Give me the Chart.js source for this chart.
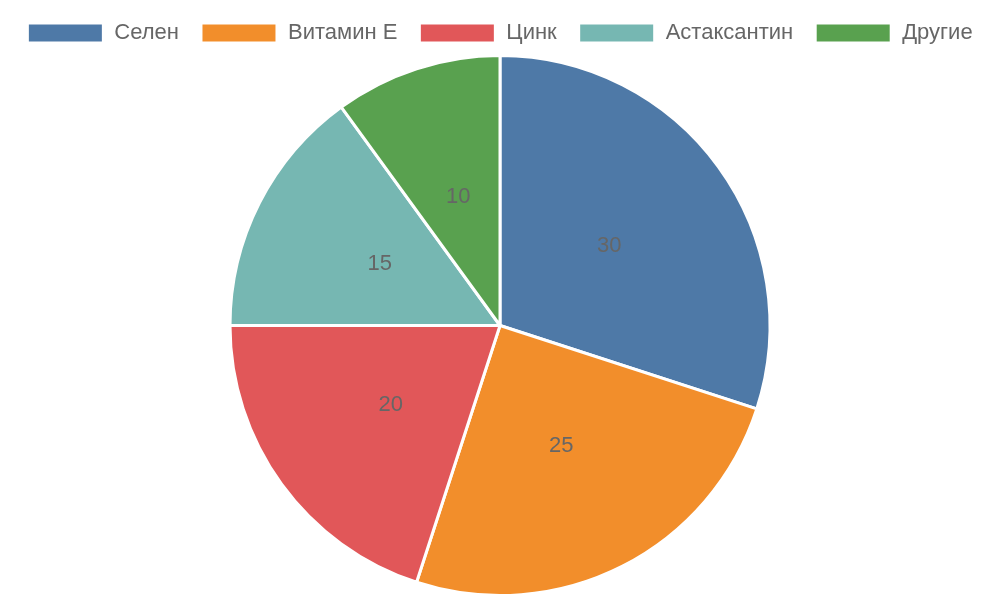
<!DOCTYPE html>
<html>
<head>
<meta charset="utf-8">
<script src="https://cdn.jsdelivr.net/npm/chart.js@4"></script>
<style>
  html, body { margin:0; padding:0; background:#fff; }
  #wrap { width:1000px; height:600px; }
</style>
</head>
<body>
<div id="wrap"><canvas id="chart"></canvas></div>
<script>
// ---- DATA ----
const categories = ["Селен", "Витамин Е", "Цинк", "Астаксантин", "Другие"];
const values = [30, 25, 20, 15, 10];
const colors = ["#4e79a7", "#f28e2b", "#e15759", "#76b7b2", "#59a14f"];

// labels drawn in the middle of each slice
const sliceLabels = {
  id: 'sliceLabels',
  afterDatasetsDraw(chart) {
    const ctx = chart.ctx;
    const meta = chart.getDatasetMeta(0);
    ctx.save();
    ctx.font = '22px "Liberation Sans", Arial, sans-serif';
    ctx.fillStyle = '#666';
    ctx.textAlign = 'center';
    ctx.textBaseline = 'middle';
    meta.data.forEach((arc, i) => {
      const p = arc.tooltipPosition();
      ctx.fillText(String(chart.data.datasets[0].data[i]), p.x, p.y);
    });
    ctx.restore();
  }
};

new Chart(document.getElementById('chart').getContext('2d'), {
  type: 'pie',
  data: {
    labels: categories,
    datasets: [{
      data: values,
      backgroundColor: colors,
      borderColor: '#fff',
      borderWidth: 3
    }]
  },
  options: {
    responsive: true,
    maintainAspectRatio: false,
    animation: false,
    layout: { padding: { bottom: 3 } },
    plugins: {
      tooltip: { enabled: false },
      legend: {
        position: 'top',
        labels: {
          boxWidth: 76,
          boxHeight: 20,
          padding: 22,
          color: '#666',
          font: { size: 22, family: '"Liberation Sans", Arial, sans-serif' }
        }
      }
    }
  },
  plugins: [sliceLabels]
});
</script>
</body>
</html>
